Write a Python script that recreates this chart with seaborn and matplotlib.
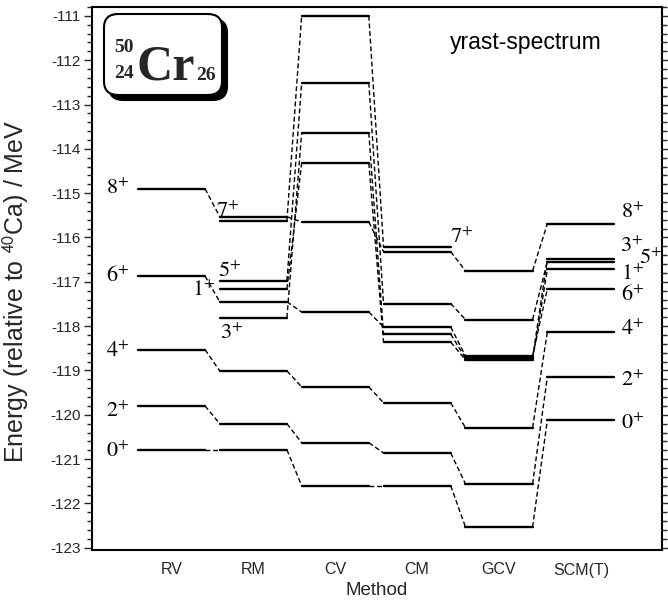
import numpy as np
import pandas as pd
import matplotlib
matplotlib.use("Agg")
import matplotlib.pyplot as plt
from matplotlib.patches import FancyBboxPatch
from matplotlib.ticker import MultipleLocator
import seaborn as sns

# ---------------- data ----------------
methods = ["RV", "RM", "CV", "CM", "GCV", "SCM(T)"]

rv_levels = {"8+": -114.90, "6+": -116.87, "4+": -118.53, "2+": -119.80, "0+": -120.79}
rm_levels = {"8+": -115.53, "7+": -115.62, "5+": -116.98, "1+": -117.16, "6+": -117.45,
             "3+": -117.81, "4+": -119.01, "2+": -120.20, "0+": -120.79}
cv_levels = {"7+": -111.00, "5+": -112.51, "3+": -113.64, "1+": -114.32, "8+": -115.65,
             "6+": -117.68, "4+": -119.37, "2+": -120.63, "0+": -121.60}
cm_levels = {"7+": -116.21, "8+": -116.32, "5+": -117.49, "6+": -118.02, "3+": -118.18,
             "1+": -118.36, "4+": -119.73, "2+": -120.86, "0+": -121.60}
gcv_levels = {"8+": -116.75, "5+": -117.85, "6+": -118.67, "3+": -118.72, "1+": -118.76,
              "4+": -120.29, "2+": -121.56, "0+": -122.53}
scm_levels = {"8+": -115.69, "3+": -116.48, "5+": -116.55, "1+": -116.72, "6+": -117.16,
              "4+": -118.13, "2+": -119.15, "0+": -120.12}

all_levels = [rv_levels, rm_levels, cv_levels, cm_levels, gcv_levels, scm_levels]

# label placement (layout only): method index, state, side, dx_px, dy_px, valign
label_specs = [
    (0, "8+", "left", -9, 0, "center"),
    (0, "6+", "left", -9, 0, "center"),
    (0, "4+", "left", -9, -2, "center"),
    (0, "2+", "left", -9, -6, "center"),
    (0, "0+", "left", -9, -2, "center"),
    (1, "7+", "startin", -4, -1, "bottom"),
    (1, "5+", "startin", -2, -1, "bottom"),
    (1, "1+", "left", -4, -2, "center"),
    (1, "3+", "startin", 0, -5, "top"),
    (3, "7+", "right", -1, -1, "bottom"),
    (5, "8+", "right", 7, 11, "center"),
    (5, "3+", "right", 6, 12, "center"),
    (5, "5+", "right", 25, 3, "center"),
    (5, "1+", "right", 7, -5, "center"),
    (5, "6+", "right", 7, -7, "center"),
    (5, "4+", "right", 7, 2, "center"),
    (5, "2+", "right", 7, -3, "center"),
    (5, "0+", "right", 7, -3, "center"),
]

HALF = 0.41  # half width of a level bar in category units

# ---------------- build tables ----------------
lvl_rows = []
for i, lv in enumerate(all_levels):
    xc = i + 1
    for s, e in lv.items():
        uid = f"{methods[i]}_{s}"
        lvl_rows.append({"x": xc - HALF, "E": e, "seg": uid})
        lvl_rows.append({"x": xc + HALF, "E": e, "seg": uid})
levels_df = pd.DataFrame(lvl_rows)

con_rows = []
for i in range(len(all_levels) - 1):
    a, b = all_levels[i], all_levels[i + 1]
    for s in a:
        if s in b:
            uid = f"{methods[i]}-{methods[i+1]}_{s}"
            con_rows.append({"x": i + 1 + HALF, "E": a[s], "seg": uid})
            con_rows.append({"x": i + 2 - HALF, "E": b[s], "seg": uid})
conn_df = pd.DataFrame(con_rows)

# ---------------- figure ----------------
sns.set_style("ticks")
plt.rcParams["font.family"] = ["Liberation Sans", "DejaVu Sans"]
plt.rcParams["mathtext.fontset"] = "stix"

W, H = 668, 603
fig = plt.figure(figsize=(W / 100, H / 100), dpi=100)
ax_l, ax_r, ax_t, ax_b = 92, 662, 7, 550
ax = fig.add_axes([ax_l / W, (H - ax_b) / H, (ax_r - ax_l) / W, (ax_b - ax_t) / H])

sns.lineplot(data=conn_df, x="x", y="E", units="seg", estimator=None, sort=False,
             color="black", lw=1.0, linestyle=(0, (3.5, 2.0)), ax=ax)
sns.lineplot(data=levels_df, x="x", y="E", units="seg", estimator=None, sort=False,
             color="black", lw=1.7, ax=ax)

ax.set_xlim(0.03, 6.99)
ax.set_ylim(-123.05, -110.8)

ax.set_xticks(range(1, len(methods) + 1))
ax.set_xticklabels(methods, fontsize=11.5)
ax.tick_params(axis="x", length=0, pad=9)
ax.yaxis.set_major_locator(MultipleLocator(1))
ax.yaxis.set_minor_locator(MultipleLocator(0.2))
ax.tick_params(axis="y", which="both", left=True, right=True, direction="out",
               labelsize=11, width=1.0)
ax.tick_params(axis="y", which="major", length=6, pad=2)
ax.tick_params(axis="y", which="minor", length=3.5)
ax.set_yticklabels([f"{int(round(v))}" for v in ax.get_yticks()])

for sp in ax.spines.values():
    sp.set_visible(True)
    sp.set_linewidth(1.5)
    sp.set_color("black")

ax.set_xlabel("Method", fontsize=13.5, labelpad=3)
ax.set_ylabel(r"Energy (relative to $^{\mathsf{40}}$Ca) / MeV", fontsize=18)
ax.yaxis.set_label_coords((31 - ax_l) / (ax_r - ax_l), 0.476)


def afx(px):
    return (px - ax_l) / (ax_r - ax_l)


def afy(py):
    return (ax_b - py) / (ax_b - ax_t)


# state labels
for (mi, s, side, dx, dy, va) in label_specs:
    e = all_levels[mi][s]
    xc = mi + 1
    if side == "left":
        xa, ha = xc - HALF, "right"
    elif side == "startin":
        xa, ha = xc - HALF, "left"
    else:
        xa, ha = xc + HALF, "left"
    txt = r"$\mathrm{%s}^{+}$" % s[:-1]
    ax.annotate(txt, xy=(xa, e), xytext=(dx * 0.72, dy * 0.72), textcoords="offset points",
                ha=ha, va=va, fontsize=16, color="black")

# title text
ax.text(afx(526), afy(43), "yrast-spectrum", transform=ax.transAxes, ha="center",
        va="center", fontsize=16.5, color="black")

# nucleus box with shadow
bx0, bx1, by0, by1 = afx(104), afx(222), afy(95), afy(14)
sh_dx, sh_dy = 5 / (ax_r - ax_l), 5 / (ax_b - ax_t)
shadow = FancyBboxPatch((bx0 + sh_dx, by0 - sh_dy), bx1 - bx0, by1 - by0,
                        boxstyle="round,pad=0,rounding_size=0.025", transform=ax.transAxes,
                        facecolor="black", edgecolor="black", lw=1.5, zorder=5)
box = FancyBboxPatch((bx0, by0), bx1 - bx0, by1 - by0,
                     boxstyle="round,pad=0,rounding_size=0.025", transform=ax.transAxes,
                     facecolor="white", edgecolor="black", lw=1.5, zorder=6)
ax.add_patch(shadow)
ax.add_patch(box)
serif = ["Liberation Serif", "DejaVu Serif"]
ax.text(afx(124), afy(48), "50", transform=ax.transAxes, ha="center", va="center",
        fontsize=14, fontweight="bold", family=serif, zorder=7)
ax.text(afx(124), afy(74), "24", transform=ax.transAxes, ha="center", va="center",
        fontsize=14, fontweight="bold", family=serif, zorder=7)
ax.text(afx(166), afy(80), "Cr", transform=ax.transAxes, ha="center", va="baseline",
        fontsize=36, fontweight="bold", family=serif, zorder=7)
ax.text(afx(206), afy(75), "26", transform=ax.transAxes, ha="center", va="center",
        fontsize=14, fontweight="bold", family=serif, zorder=7)

fig.savefig("out.png", dpi=100)
